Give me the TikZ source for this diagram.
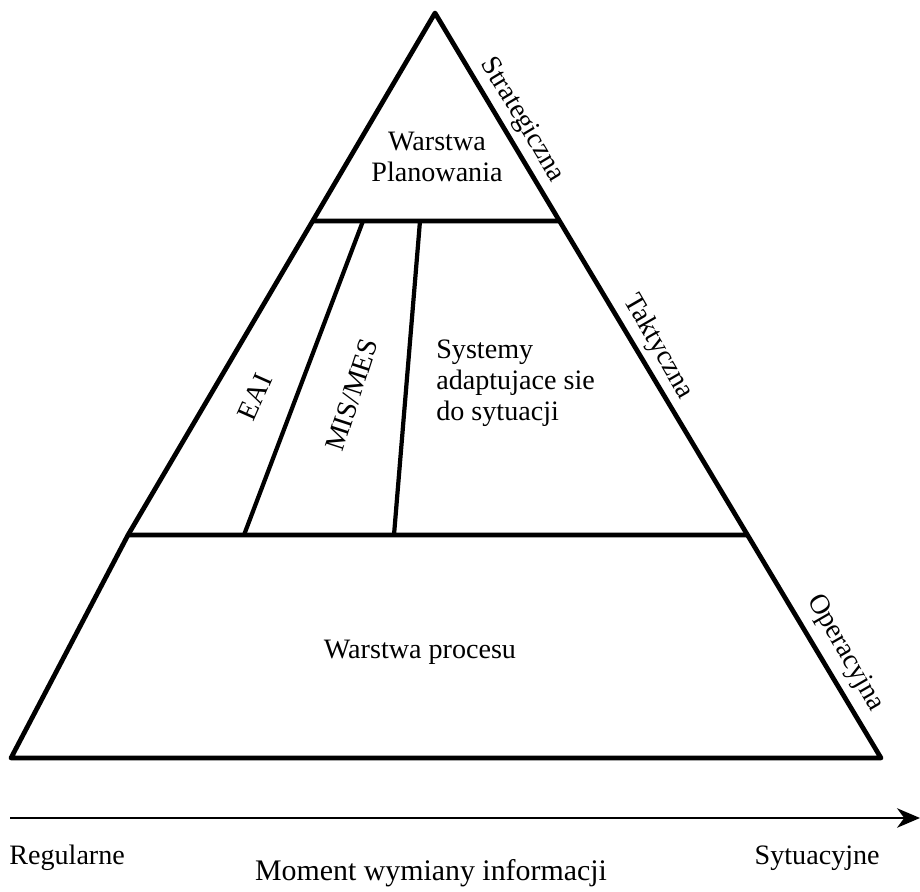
\documentclass[tikz,border=0pt]{standalone}
\usepackage{fontspec}
\setmainfont{Liberation Serif}
\usetikzlibrary{calc,arrows.meta}

\tikzset{
  side/.style={line width=2.7pt, line join=round},
  divider/.style={line width=2.4pt},
  lbl/.style={inner sep=0pt, font=\fontsize{16}{17.5}\selectfont},
  axis/.style={line width=1.6pt, -{Stealth[length=13pt,width=11pt,inset=4pt]}}
}

\begin{document}
\begin{tikzpicture}[x=0.02cm, y=-0.02cm]
                      \useasboundingbox (0,0) rectangle (920,892);
                      \coordinate (A) at (435,13);
                      \coordinate (L2) at (128,535);
                      \coordinate (BL) at (11,758);
                      \coordinate (BR) at (881,758);
                      \coordinate (R2) at ($(A)!0.7007!(BR)$);
                      \coordinate (L1) at ($(A)!0.3985!(L2)$);
                      \coordinate (R1) at ($(A)!0.2792!(BR)$);
                      \draw [side] (A) -- (L2) -- (BL) -- (BR) -- cycle;
                      \draw [side] (L1) -- (R1);
                      \draw [side] (L2) -- (R2);
                      \draw [divider] (363,221) coordinate (d1t) -- (244,535) coordinate (d1b);
                      \draw [divider] (420,221) coordinate (d2t) -- (394,535) coordinate (d2b);
                      \node [lbl, align=center] (plan) at (437,157) {Warstwa\\Planowania};
                      \node [lbl, rotate=66] (eai) at (255,397) {EAI};
                      \node [lbl, rotate=72] (mis) at (352,395) {MIS/MES};
                      \node [lbl, align=left, anchor=north west] (sys) at (436,340) {Systemy\\adaptujace sie\\do sytuacji};
                      \node [lbl] (proc) at (420,652) {Warstwa procesu};
                      \node [lbl, rotate=-59] (strat) at (522,120) {Strategiczna};
                      \node [lbl, rotate=-60] (takt) at (658,347) {Taktyczna};
                      \node [lbl, rotate=-60] (oper) at (845,653) {Operacyjna};
                      \coordinate (s) at (10,818);
                      \coordinate (e) at (920,818);
                      \draw [axis] (s) -- (e);
                      \node [lbl, anchor=west] (reg) at (9,858) {Regularne};
                      \node [lbl, anchor=east] (syt) at (880,858) {Sytuacyjne};
                      \node [lbl, font=\fontsize{17}{18}\selectfont] (mom) at (431,873) {Moment wymiany informacji};
                  \end{tikzpicture}
\end{document}
